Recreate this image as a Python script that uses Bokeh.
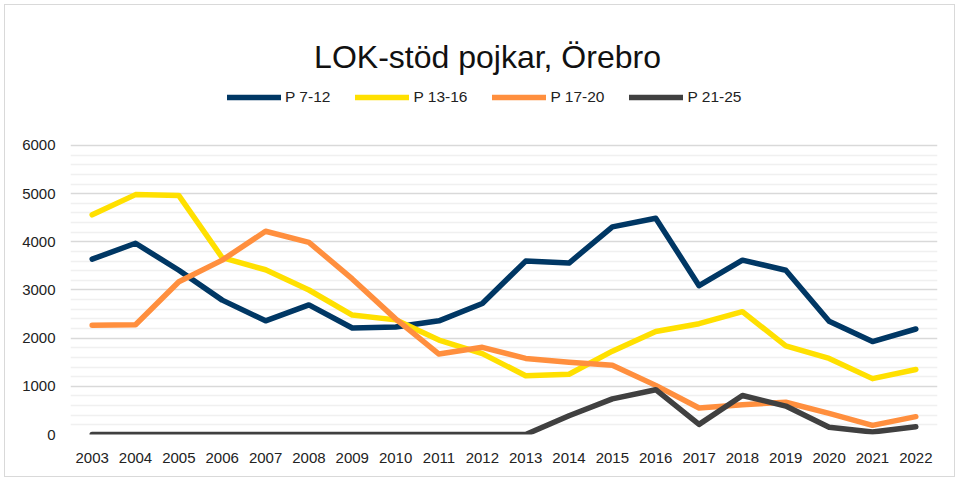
from bokeh.plotting import figure
from bokeh.models import Range1d, FixedTicker, Legend, LegendItem, Label, BasicTickFormatter
from bokeh.embed import file_html
from bokeh.resources import INLINE

years = list(range(2003, 2023))
p7_12 = [3640, 3970, 3410, 2790, 2360, 2690, 2210, 2230, 2360, 2720,
         3600, 3560, 4310, 4490, 3090, 3620, 3410, 2350, 1930, 2190]
p13_16 = [4560, 4980, 4960, 3670, 3420, 3000, 2480, 2380, 1960, 1680,
          1220, 1250, 1730, 2140, 2300, 2550, 1840, 1580, 1160, 1350]
p17_20 = [2270, 2280, 3170, 3620, 4220, 3990, 3230, 2400, 1670, 1810,
          1580, 1500, 1440, 1020, 550, 620, 670, 440, 190, 370]
p21_25 = [0, 0, 0, 0, 0, 0, 0, 0, 0, 0,
          0, 390, 740, 930, 210, 810, 590, 150, 50, 160]
series_names = ["P 7-12", "P 13-16", "P 17-20", "P 21-25"]
series_colors = ["#003764", "#FFE000", "#FF8F3E", "#404040"]
y_ticks = [0, 1000, 2000, 3000, 4000, 5000, 6000]
y_minor_ticks = [v for v in range(0, 6001, 200) if v % 1000 != 0]
title_text = "LOK-stöd pojkar, Örebro"

FONT = "Liberation Sans"

# Frame extends above the 6000 gridline so that title and legend (annotations) are not clipped
p = figure(width=959, height=481, output_backend="svg", toolbar_location=None,
           x_range=Range1d(2002.5, 2022.5), y_range=Range1d(0, 8844),
           min_border_left=70, min_border_right=22, min_border_top=8, min_border_bottom=47)
p.styles = {"outline": "1px solid #d9d9d9", "outline-offset": "-5px"}
p.outline_line_color = None
p.background_fill_color = "white"
p.border_fill_alpha = 0

# axes
p.xaxis.ticker = FixedTicker(ticks=years)
p.xaxis.formatter = BasicTickFormatter(use_scientific=False)
p.yaxis.ticker = FixedTicker(ticks=y_ticks, minor_ticks=y_minor_ticks)
p.yaxis.formatter = BasicTickFormatter(use_scientific=False)
for ax in (p.xaxis, p.yaxis):
    ax.axis_line_color = None
    ax.major_tick_line_color = None
    ax.minor_tick_line_color = None
    ax.major_label_text_font = FONT
    ax.major_label_text_font_size = "15px"
    ax.major_label_text_color = "#222222"
p.xaxis.major_label_standoff = 12
p.yaxis.major_label_standoff = 9

p.xgrid.grid_line_color = None
p.ygrid.grid_line_color = "#d9d9d9"
p.ygrid.grid_line_width = 1.5
p.ygrid.minor_grid_line_color = "#f0f0f0"
p.ygrid.minor_grid_line_width = 1.3

renderers = []
for name, vals, col in zip(series_names, [p7_12, p13_16, p17_20, p21_25], series_colors):
    r = p.line(years, vals, line_color=col, line_width=5.5, line_cap="round", line_join="round")
    renderers.append(r)

legend = Legend(items=[LegendItem(label=n, renderers=[r]) for n, r in zip(series_names, renderers)],
                location=(157, 328), orientation="horizontal",
                glyph_width=54, glyph_height=16, label_height=16, label_standoff=4,
                spacing=25, padding=0, margin=0,
                border_line_color=None, background_fill_alpha=0,
                label_text_font=FONT, label_text_font_size="15.5px", label_text_color="#222222")
p.add_layout(legend)

title = Label(x=2012.12, y=7833, text=title_text, text_align="center", text_baseline="alphabetic",
              text_font=FONT, text_font_size="32px", text_color="#111111")
p.add_layout(title)

open("out.html", "w").write(file_html(p, INLINE))
